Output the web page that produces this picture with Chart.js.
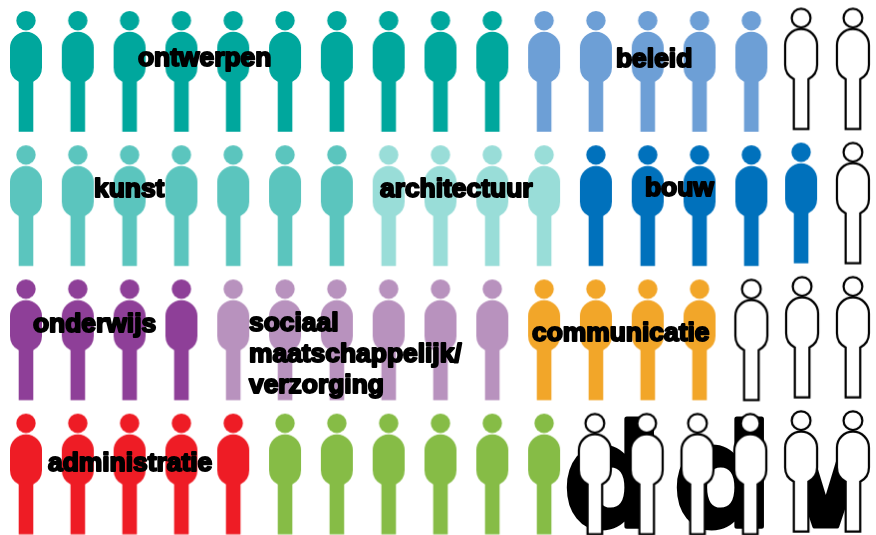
<!DOCTYPE html>
<html><head><meta charset="utf-8">
<script src="https://cdn.jsdelivr.net/npm/chart.js@4/dist/chart.umd.min.js"></script>
<style>html,body{margin:0;padding:0;background:#fff}canvas{display:block}</style>
</head><body>
<canvas id="c" width="876" height="535"></canvas>
<script>
// ---- data: one pictogram person per unit, four rows of 17 slots ----
const categories = ['ontwerpen','beleid','(leeg) 1','kunst','architectuur','bouw','(leeg) 2','onderwijs','sociaal maatschappelijk/verzorging','communicatie','(leeg) 3','administratie','(groen)','(leeg) 4'];
const personCounts = [10,5,2, 7,4,5,1, 4,6,4,3, 5,6,6];
const rowOfCategory = [0,0,0, 1,1,1,1, 2,2,2,2, 3,3,3];
const colours = ['#00A79D','#6D9FD6',null,'#5BC5BE','#99DDD8','#0071BC',null,'#8E3F98','#B892BE','#F2A629',null,'#EE1C25','#86BC46',null];
// small hand-read drift of individual figures, in slot / row units: key "category:index"
const driftY = {'2:0':-0.02,'2:1':-0.02,'5:4':-0.02,'6:0':-0.02,'10:1':-0.02,'10:2':-0.02,'13:4':-0.02,'13:5':-0.02};
const driftX = {'2:0':-0.04,'2:1':-0.04,'5:4':-0.04,'6:0':-0.04,'10:1':-0.02,'10:2':-0.04,'13:0':-0.02,'13:1':-0.02,'13:2':-0.04,'13:3':-0.02,'13:4':-0.04,'13:5':-0.04};

// ---- layout ----
const W = 876, H = 535;
const SLOT = 51.81, SLOT0 = 26, ROW = 134.2, ROW0 = 73;
const textLabels = [
  {lines:['ontwerpen'], x:138, y:58.5},
  {lines:['beleid'], x:616, y:59.5},
  {lines:['kunst'], x:94, y:189.5},
  {lines:['architectuur'], x:380, y:189.5},
  {lines:['bouw'], x:645, y:188.5},
  {lines:['onderwijs'], x:33, y:324.5},
  {lines:['sociaal','maatschappelijk/','verzorging'], x:249, y:324},
  {lines:['communicatie'], x:532, y:333.5},
  {lines:['administratie'], x:48, y:463.5}
];
const bigLetters = [
  {t:'d', x:563, sx:1},
  {t:'d', x:673, sx:1},
  {t:'v', x:787, sx:0.85}
];

function personImage(colour){
  const c = document.createElement('canvas');
  c.width = 40; c.height = 130;
  const g = c.getContext('2d');
  const cx = 20, top = 3;
  const headY = top+9.7, bodyTop = top+20.7, bodyBot = top+72.5, legBot = top+120.7;
  const r = 16, leg = 7.3;
  const junction = bodyBot - r + Math.sqrt(r*r-leg*leg);
  g.beginPath();
  g.moveTo(cx-leg, legBot);
  g.lineTo(cx-leg, junction);
  g.arc(cx, bodyBot-r, r, Math.PI-Math.asin(Math.sqrt(r*r-leg*leg)/r), Math.PI, false);
  g.lineTo(cx-r, bodyTop+r);
  g.arc(cx, bodyTop+r, r, Math.PI, 0, false);
  g.lineTo(cx+r, bodyBot-r);
  g.arc(cx, bodyBot-r, r, 0, Math.asin(Math.sqrt(r*r-leg*leg)/r), false);
  g.lineTo(cx+leg, legBot);
  g.closePath();
  if(colour){
    g.fillStyle = colour; g.fill();
    g.beginPath(); g.arc(cx, headY, 9.7, 0, Math.PI*2); g.fill();
  } else {
    g.fillStyle = '#fff'; g.fill();
    g.strokeStyle = '#000'; g.lineWidth = 2.2; g.stroke();
    g.beginPath(); g.arc(cx, headY, 9.4, 0, Math.PI*2); g.fill(); g.stroke();
  }
  return c;
}

// datasets built from the arrays above
let slotInRow = {};
const datasets = categories.map((name,i)=>{
  const row = rowOfCategory[i];
  const start = slotInRow[row] || 0;
  const data = [];
  for(let k=0;k<personCounts[i];k++){
    data.push({x:start+k+(driftX[i+':'+k]||0), y:row+(driftY[i+':'+k]||0)});
  }
  slotInRow[row] = start + personCounts[i];
  return {label:name, data, pointStyle:personImage(colours[i]), pointRadius:20, pointHoverRadius:20, showLine:false, clip:false};
});

const letterPlugin = {
  id:'letters',
  beforeDatasetsDraw(chart){
    const g = chart.ctx; g.save();
    g.fillStyle = '#000'; g.strokeStyle='#000'; g.lineWidth=5; g.lineJoin='round';
    g.font = 'bold 140px "DejaVu Sans"'; g.textBaseline='alphabetic'; g.textAlign='left';
    bigLetters.forEach(l=>{ g.save(); g.translate(l.x,526); g.scale(l.sx,1); g.strokeText(l.t,0,0); g.fillText(l.t,0,0); g.restore(); });
    g.restore();
  },
  afterDatasetsDraw(chart){
    const g = chart.ctx; g.save();
    g.font = 'bold 26.4px "Liberation Sans"'; g.fillStyle='#000'; g.strokeStyle='#000'; g.lineWidth=2; g.lineJoin='round';
    g.textBaseline='middle'; g.textAlign='left';
    textLabels.forEach(l=>{ l.lines.forEach((t,i)=>{ const y=l.y+i*31; g.strokeText(t,l.x,y); g.fillText(t,l.x,y); }); });
    g.restore();
  }
};

new Chart(document.getElementById('c'),{
  type:'scatter',
  data:{datasets},
  plugins:[letterPlugin],
  options:{
    responsive:false, animation:false, events:[],
    layout:{padding:0,autoPadding:false},
    plugins:{legend:{display:false},tooltip:{enabled:false},title:{display:false}},
    scales:{
      x:{type:'linear',display:false,min:-SLOT0/SLOT,max:(W-SLOT0)/SLOT},
      y:{type:'linear',display:false,reverse:true,min:-ROW0/ROW,max:(H-ROW0)/ROW}
    }
  }
});
</script>
</body></html>
